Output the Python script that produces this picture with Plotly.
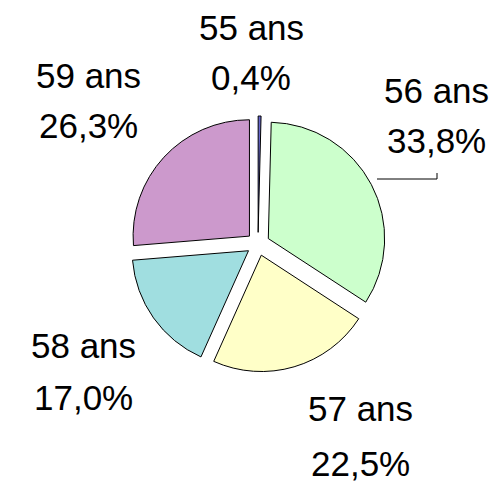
import plotly.graph_objects as go

# Data
ages = ["55 ans", "56 ans", "57 ans", "58 ans", "59 ans"]
shares = [0.4, 33.8, 22.5, 17.0, 26.3]
colors = ["#6666CC", "#CCFFCC", "#FFFFC8", "#A0DEE0", "#CC99CC"]

W, H = 503, 482

# label centre positions in window pixels (x, name line y, percent line y)
label_pos = [
    (251, 27, 77),
    (436, 90, 140),
    (360, 408, 463),
    (83, 345, 397),
    (88, 75, 126),
]

cx, cy, half = 258, 244, 128


def px(x):
    return x / W


def py(y):
    return 1 - y / H


fig = go.Figure(go.Pie(
    labels=ages,
    values=shares,
    sort=False,
    direction="clockwise",
    rotation=0,
    pull=[0.1] * len(ages),
    marker=dict(colors=colors, line=dict(color="black", width=1)),
    textinfo="none",
    hoverinfo="label+percent",
    showlegend=False,
    domain=dict(x=[(cx - half) / W, (cx + half) / W],
                y=[(H - cy - half) / H, (H - cy + half) / H]),
))

font = dict(family="Liberation Sans, Arial, sans-serif", size=35, color="black")
annotations = []
for name, val, (x, y1, y2) in zip(ages, shares, label_pos):
    pct = f"{val:.1f}".replace(".", ",") + "%"
    for txt, yy in ((name, y1), (pct, y2)):
        annotations.append(dict(
            text=txt, x=px(x), y=py(yy), xref="paper", yref="paper",
            xanchor="center", yanchor="middle", showarrow=False, font=font,
        ))

# leader line for 56 ans
shapes = [dict(
    type="path", xref="paper", yref="paper",
    path=f"M {px(377)},{py(179)} L {px(437)},{py(179)} L {px(437)},{py(173)}",
    line=dict(color="black", width=1),
)]

fig.update_layout(
    width=W, height=H,
    margin=dict(l=0, r=0, t=0, b=0),
    paper_bgcolor="white", plot_bgcolor="white",
    annotations=annotations,
    shapes=shapes,
)

fig.write_html(
    "out.html",
    config={"displayModeBar": False},
    post_script="document.body.style.margin='0';document.body.style.overflow='hidden';",
)
